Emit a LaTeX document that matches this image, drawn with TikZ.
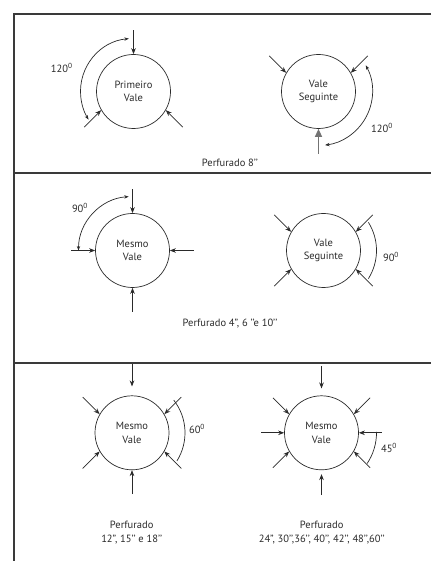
\documentclass[tikz,border=0pt]{standalone}
\usepackage{fontspec}
\setmainfont{PT Sans}
\usetikzlibrary{arrows.meta, calc}
\definecolor{inkgrey}{HTML}{2A2A2A}
\definecolor{rulegrey}{HTML}{3A3A3A}
\newcommand{\grau}{\textsuperscript{0}}

\begin{document}
\begin{tikzpicture}[
    x=1pt, y=1pt,
    font=\fontsize{10.5}{13.5}\selectfont,
    valve/.style={draw, circle, minimum size=74pt, inner sep=0pt, align=center,
                  line width=0.7pt, inkgrey, text=inkgrey},
    jet/.style={-{Stealth[length=6pt, width=4.6pt]}, line width=0.7pt, inkgrey},
    bigjet/.style={-{Triangle[length=8pt, width=7pt]}, line width=1.4pt, black!55},
    sweep/.style={{Stealth[length=4.5pt, width=3.4pt]}-{Stealth[length=4.5pt, width=3.4pt]},
                  line width=0.7pt, inkgrey},
    span/.style={line width=0.7pt, inkgrey},
    lbl/.style={inkgrey, inner sep=1pt, align=center},
    frame/.style={line width=1.6pt, rulegrey}]

  \useasboundingbox (0,0) rectangle (431,561);

  % ---- frame ----
  \coordinate (tl) at (14,547);
  \coordinate (tr) at (431,547);
  \coordinate (bl) at (14,0);
  \coordinate (d1l) at (14,388);
  \coordinate (d1r) at (431,388);
  \coordinate (d2l) at (14,198);
  \coordinate (d2r) at (431,198);
  \draw[frame] (tr) -- (tl) -- (bl);
  \draw[frame] (d1l) -- (d1r);
  \draw[frame] (d2l) -- (d2r);

  % ---- panel 1: 120 ----
  \node[valve] (pv)  at (133.5,469.5) {Primeiro\\Vale};
  \node[valve] (vs1) at (318.5,469.5) {Vale\\Seguinte};

  \foreach \a/\d in {90/90, 210/225, 330/315}
    \draw[jet] ([shift={(\d:24)}]pv.\a) -- (pv.\a);
  \foreach \a/\d in {150/135, 30/45}
    \draw[jet] ([shift={(\d:24)}]vs1.\a) -- (vs1.\a);
  \draw[bigjet] ([yshift=-25]vs1.south) -- (vs1.south);

  \draw[sweep] ([shift={(95:53)}]pv.center) arc[start angle=95, end angle=212, radius=53];
  \draw[sweep] ([shift={(29:54)}]vs1.center) arc[start angle=29, end angle=-83, radius=54];

  \node[lbl] (a1) at (61.7,492.7) {120\grau};
  \node[lbl] (a2) at (382,433.3) {120\grau};
  \node[lbl] (c1) at (230,397.7) {Perfurado 8’’};

  % ---- panel 2: 90 ----
  \node[valve] (mv2) at (132.5,310.5) {Mesmo\\Vale};
  \node[valve] (vs2) at (323.5,310.5) {Vale\\Seguinte};

  \foreach \a in {90, 180, 0, 270}
    \draw[jet] ([shift={(\a:24)}]mv2.\a) -- (mv2.\a);
  \foreach \a/\d in {150/135, 30/45, 210/225, 330/315}
    \draw[jet] ([shift={(\d:24)}]vs2.\a) -- (vs2.\a);

  \draw[sweep] ([shift={(94:54)}]mv2.center) arc[start angle=94, end angle=180, radius=54];
  \draw[span] ([shift={(32:53)}]vs2.center) arc[start angle=32, end angle=-32, radius=53];

  \node[lbl] (a3) at (80,352.7) {90\grau};
  \node[lbl] (a4) at (391,304.3) {90\grau};
  \node[lbl] (c2) at (230,237.7) {Perfurado 4”, 6 ’’e 10’’};

  % ---- panel 3: 60 and 45 ----
  \node[valve] (mv3a) at (132,128.2) {Mesmo\\Vale};
  \node[valve] (mv3b) at (321.5,128.2) {Mesmo\\Vale};

  \draw[jet] ([yshift=31]mv3a.north) -- ([yshift=9]mv3a.north);
  \foreach \a/\d in {150/135, 30/45, 210/225, 330/315, 270/270}
    \draw[jet] ([shift={(\d:24)}]mv3a.\a) -- (mv3a.\a);

  \draw[jet] ([yshift=29]mv3b.north) -- ([yshift=7]mv3b.north);
  \draw[jet] ([yshift=-25]mv3b.south) -- ([yshift=-4]mv3b.south);
  \foreach \a/\d in {150/135, 30/45, 210/225, 330/315, 180/180, 0/0}
    \draw[jet] ([shift={(\d:23)}]mv3b.\a) -- (mv3b.\a);

  \draw[span] ([shift={(38:53)}]mv3a.center) arc[start angle=38, end angle=-32, radius=53];
  \draw[span] ([shift={(1:55)}]mv3b.center) arc[start angle=1, end angle=-34, radius=55];

  \node[lbl] (a5) at (197,131.7) {60\grau};
  \node[lbl] (a6) at (389,112.7) {45\grau};
  \node[lbl] (c3) at (131.7,28.5) {Perfurado\\12”, 15’’ e 18’’};
  \node[lbl] (c4) at (321.7,28.5) {Perfurado\\24”, 30’’,36’’, 40’’, 42’’, 48’’,60’’};
\end{tikzpicture}
\end{document}
